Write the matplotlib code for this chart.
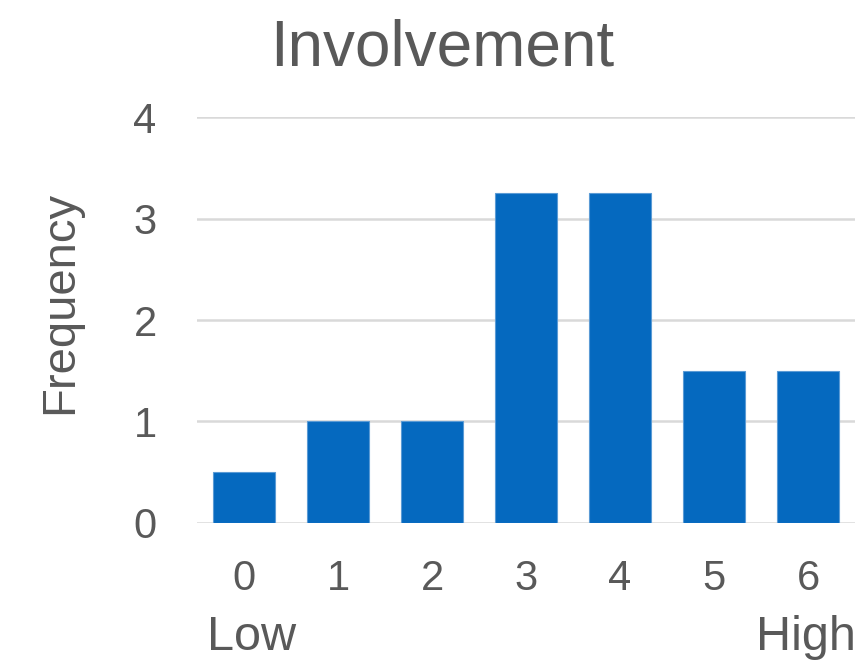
import matplotlib.pyplot as plt

plt.rcParams['font.family'] = ['Liberation Sans', 'DejaVu Sans']

# Data
categories = ["0", "1", "2", "3", "4", "5", "6"]
frequency = [0.5, 1.0, 1.0, 3.25, 3.25, 1.5, 1.5]
y_ticks = [0, 1, 2, 3, 4]

text_color = "#595959"
bar_color = "#0569BF"
grid_color = "#D9D9D9"

fig = plt.figure(figsize=(8.66, 6.6), dpi=100)
ax = fig.add_axes([0.2275, 0.2076, 0.76, 0.6151])

x = list(range(len(categories)))
ax.bar(x, frequency, width=0.66, color=bar_color, edgecolor="#5B9BD5", linewidth=0.8, zorder=3)

ax.set_xlim(-0.5, 6.5)
ax.set_ylim(0, 4)
ax.set_yticks(y_ticks)
ax.set_xticks(x)
ax.set_xticklabels(categories)
ax.yaxis.grid(True, color=grid_color, linewidth=1.8, zorder=0)
ax.set_axisbelow(True)
for s in ax.spines.values():
    s.set_visible(False)
ax.tick_params(axis="both", length=0, labelsize=30, colors=text_color)
ax.tick_params(axis="x", pad=26)
ax.tick_params(axis="y", pad=29)

# title, axis label and end labels placed in figure coords
fig.text(0.5104, 0.9015, "Involvement", fontsize=46, color=text_color,
         ha="center", va="baseline")
fig.text(0.069, 0.542, "Frequency", fontsize=34, color=text_color,
         rotation=90, ha="center", va="center")
fig.text(0.239, 0.0152, "Low", fontsize=35, color=text_color,
         ha="left", va="baseline")
fig.text(0.988, 0.0152, "High", fontsize=35, color=text_color,
         ha="right", va="baseline")

fig.savefig("out.png", dpi=100)
